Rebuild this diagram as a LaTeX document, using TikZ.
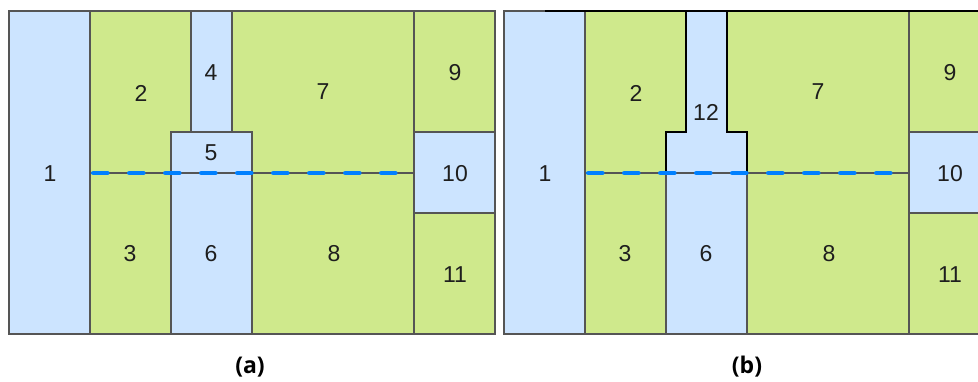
\documentclass[tikz,border=0pt]{standalone}
\usepackage{fontspec}
\setmainfont{Liberation Sans}
\newfontfamily\capfont{Open Sans}
\definecolor{cellblue}{RGB}{204,228,255}
\definecolor{cellgreen}{RGB}{207,233,140}
\definecolor{edgegray}{RGB}{85,85,85}
\definecolor{dashblue}{RGB}{0,128,255}
\definecolor{labelgray}{RGB}{30,30,30}
\tikzset{
  bluecell/.style={fill=cellblue, draw=edgegray, line width=1.7pt, line join=miter},
  greencell/.style={fill=cellgreen, draw=edgegray, line width=1.7pt, line join=miter},
  mergedcell/.style={fill=cellblue, draw=black, line width=1.7pt, line join=miter},
  celllabel/.style={font=\fontsize{23}{26}\selectfont, text=labelgray, inner sep=0pt},
  caplabel/.style={font=\capfont\bfseries\fontsize{23}{26}\selectfont, text=black, inner sep=0pt},
  graysplit/.style={draw=edgegray, line width=1.7pt},
  bluedash/.style={draw=dashblue, line width=4.6pt, line cap=round, dash pattern=on 14pt off 22pt, dash phase=-2.3pt},
}
\begin{document}
\begin{tikzpicture}[x=1pt,y=-1pt]
\useasboundingbox (0,0) rectangle (978,381);
\begin{scope}
\clip (0,0) rectangle (978,381);
% ---------- panel (a) ----------
\path[bluecell]  (9,11) rectangle (90,334);
\path[greencell] (90,11) -- (191,11) -- (191,132) -- (171,132) -- (171,173) -- (90,173) -- cycle;
\path[bluecell]  (191,11) rectangle (232,132);
\path[bluecell]  (171,132) rectangle (252,173);
\path[greencell] (232,11) -- (414,11) -- (414,173) -- (252,173) -- (252,132) -- (232,132) -- cycle;
\path[greencell] (90,173) rectangle (171,334);
\path[bluecell]  (171,173) rectangle (252,334);
\path[greencell] (252,173) rectangle (414,334);
\path[greencell] (414,11) rectangle (495,132);
\path[bluecell]  (414,132) rectangle (495,213);
\path[greencell] (414,213) rectangle (495,334);
\coordinate (aL) at (90,173);
\coordinate (aR) at (414,173);
\draw[graysplit] (aL) -- (aR);
\draw[bluedash] (91,173) -- (401,173);
\node[celllabel] (a1) at (50,174) {1};
\node[celllabel] (a2) at (141,93) {2};
\node[celllabel] (a4) at (211,73) {4};
\node[celllabel] (a5) at (211,153) {5};
\node[celllabel] (a7) at (323,92) {7};
\node[celllabel] (a9) at (455,73) {9};
\node[celllabel] (a10) at (455,174) {10};
\node[celllabel] (a3) at (130,254) {3};
\node[celllabel] (a6) at (211,254) {6};
\node[celllabel] (a8) at (334,254) {8};
\node[celllabel] (a11) at (455,275) {11};
% ---------- panel (b) ----------
\begin{scope}[xshift=495pt]
\path[bluecell]  (9,11) rectangle (90,334);
\path[greencell] (90,11) -- (191,11) -- (191,132) -- (171,132) -- (171,173) -- (90,173) -- cycle;
\path[greencell] (232,11) -- (414,11) -- (414,173) -- (252,173) -- (252,132) -- (232,132) -- cycle;
\path[greencell] (90,173) rectangle (171,334);
\path[bluecell]  (171,173) rectangle (252,334);
\path[greencell] (252,173) rectangle (414,334);
\path[greencell] (414,11) rectangle (495,132);
\path[bluecell]  (414,132) rectangle (495,213);
\path[greencell] (414,213) rectangle (495,334);
\path[mergedcell] (191,11) -- (232,11) -- (232,132) -- (252,132) -- (252,173) -- (171,173) -- (171,132) -- (191,132) -- cycle;
\draw[black, line width=1.7pt] (50,11) -- (495,11);
\coordinate (bL) at (90,173);
\coordinate (bR) at (414,173);
\draw[graysplit] (bL) -- (bR);
\draw[bluedash] (91,173) -- (401,173);
\node[celllabel] (b1) at (50,174) {1};
\node[celllabel] (b2) at (141,93) {2};
\node[celllabel] (b12) at (211,112) {12};
\node[celllabel] (b7) at (323,92) {7};
\node[celllabel] (b9) at (455,73) {9};
\node[celllabel] (b10) at (455,174) {10};
\node[celllabel] (b3) at (130,254) {3};
\node[celllabel] (b6) at (211,254) {6};
\node[celllabel] (b8) at (334,254) {8};
\node[celllabel] (b11) at (455,275) {11};
\end{scope}
\end{scope}
\node[caplabel] (capa) at (250,367) {(a)};
\node[caplabel] (capb) at (747,367) {(b)};
\end{tikzpicture}
\end{document}
